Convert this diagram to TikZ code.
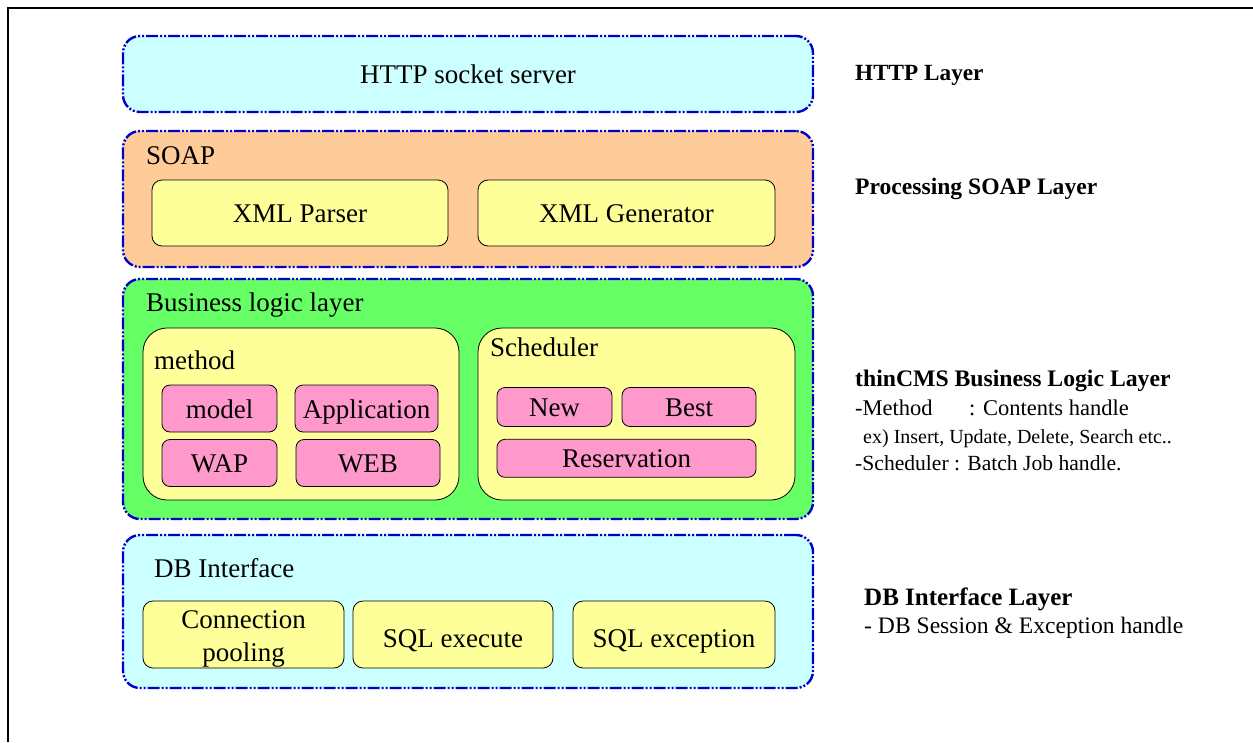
\documentclass[tikz,border=0pt]{standalone}
\usepackage{fontspec}
\IfFontExistsTF{LiberationSerif-Regular.ttf}
  {\setmainfont{LiberationSerif-Regular.ttf}[BoldFont=LiberationSerif-Bold.ttf]}
  {\IfFontExistsTF{Liberation Serif}{\setmainfont{Liberation Serif}}{}}
\newcommand{\fsz}[1]{\fontsize{#1}{#1}\selectfont}
\begin{document}
\begin{tikzpicture}[x=1pt,y=-1pt,
  layer/.style={draw=blue!80!black, line width=2.4pt, rounded corners=17pt,
    dash pattern=on 12pt off 2pt on 2pt off 2pt on 2pt off 2pt, inner sep=0pt},
  inbox/.style={draw=black, line width=0.8pt, rounded corners=10pt, fill=yel, inner sep=0pt,
    font=\rmfamily\fsz{27}, align=center, text height=21pt, text depth=2pt},
  pinkbox/.style={draw=black, line width=0.8pt, rounded corners=8pt, fill=pnk, inner sep=0pt,
    font=\rmfamily\fsz{27}, text height=21pt, text depth=2pt},
  lbl/.style={anchor=base west, inner sep=0pt, font=\rmfamily\fsz{27}},
  side/.style={anchor=base west, inner sep=0pt},
  sidebold/.style={anchor=base west, inner sep=0pt}]
\definecolor{cyn}{HTML}{CCFFFF}
\definecolor{peach}{HTML}{FFCC99}
\definecolor{grn}{HTML}{66FF66}
\definecolor{yel}{HTML}{FFFF99}
\definecolor{pnk}{HTML}{FF99CC}
\useasboundingbox (0,0) rectangle (1253,742);
\fill[white] (0,0) rectangle (1253,742);
% frame
\coordinate (f1) at (1253,8);
\coordinate (f0) at (8,8);
\coordinate (f2) at (8,742);
\draw[line width=2.5pt] (f1) -- (f0) -- (f2);

% HTTP layer
\node[layer, fill=cyn, minimum width=690, minimum height=76, font=\rmfamily\fsz{27},
  text height=19pt, text depth=0pt] (http) at (468,74) {HTTP socket server};

% SOAP layer
\node[layer, fill=peach, minimum width=690, minimum height=136] (soap) at (468,199) {};
\node[lbl] (soapl) at (146,164) {SOAP};
\node[inbox, minimum width=296, minimum height=66] (xmlp) at (300,213) {XML Parser};
\node[inbox, minimum width=297, minimum height=66] (xmlg) at (626.5,213) {XML Generator};

% Business layer
\node[layer, fill=grn, minimum width=690, minimum height=240] (biz) at (468,399) {};
\node[lbl] (bizl) at (146,311.5) {Business logic layer};
\node[inbox, rounded corners=24pt, minimum width=316, minimum height=172] (meth) at (301,414) {};
\node[lbl] (methl) at (154,369) {method};
\node[pinkbox, minimum width=115, minimum height=47] (model) at (219.5,408.5) {model};
\node[pinkbox, minimum width=143, minimum height=47] (app) at (366.5,408.5) {Application};
\node[pinkbox, minimum width=115, minimum height=47] (wap) at (219.5,463) {WAP};
\node[pinkbox, minimum width=144, minimum height=47] (web) at (368,463) {WEB};
\node[inbox, rounded corners=24pt, minimum width=317, minimum height=172] (sched) at (636.5,414) {};
\node[lbl] (schedl) at (490,356) {Scheduler};
\node[pinkbox, minimum width=115, minimum height=39] (new) at (554.5,407) {New};
\node[pinkbox, minimum width=134, minimum height=39] (best) at (689,407) {Best};
\node[pinkbox, minimum width=259, minimum height=38] (resv) at (626.5,458.3) {Reservation};

% DB layer
\node[layer, fill=cyn, minimum width=690, minimum height=153] (db) at (468,611.5) {};
\node[lbl] (dbl) at (154,577.3) {DB Interface};
\node[inbox, minimum width=201, minimum height=67, font=\rmfamily\fontsize{27}{33.5}\selectfont,
  text height=54pt, text depth=0pt] (conn) at (243.5,634.5) {Connection\\pooling};
\node[inbox, minimum width=200, minimum height=67, text height=25pt, text depth=0pt] (sqle) at (453,634.5) {SQL execute};
\node[inbox, minimum width=202, minimum height=67, text height=25pt, text depth=0pt] (sqlx) at (674,634.5) {SQL exception};

% side descriptions
\node[sidebold, font=\rmfamily\bfseries\fsz{23.2}] (t1) at (855,80) {HTTP Layer};
\node[sidebold, font=\rmfamily\bfseries\fsz{23.6}] (t2) at (855,194) {Processing SOAP Layer};
\node[sidebold, font=\rmfamily\bfseries\fsz{23.7}] (t3) at (855,386) {thinCMS Business Logic Layer};
\node[side, font=\rmfamily\fsz{22.5}] (t3a) at (855,415) {-Method\hspace{36.5pt}:\hspace{7.75pt}Contents handle};
\node[side, font=\rmfamily\fsz{20}] (t3b) at (863,443) {ex) Insert, Update, Delete, Search etc..};
\node[side, font=\rmfamily\fsz{21.6}] (t3c) at (855,470) {-Scheduler : Batch Job handle.};
\node[sidebold, font=\rmfamily\bfseries\fsz{25}] (t4) at (864,605) {DB Interface Layer};
\node[side, font=\rmfamily\fsz{23.6}] (t4a) at (864,633) {- DB Session \& Exception handle};
\end{tikzpicture}
\end{document}
